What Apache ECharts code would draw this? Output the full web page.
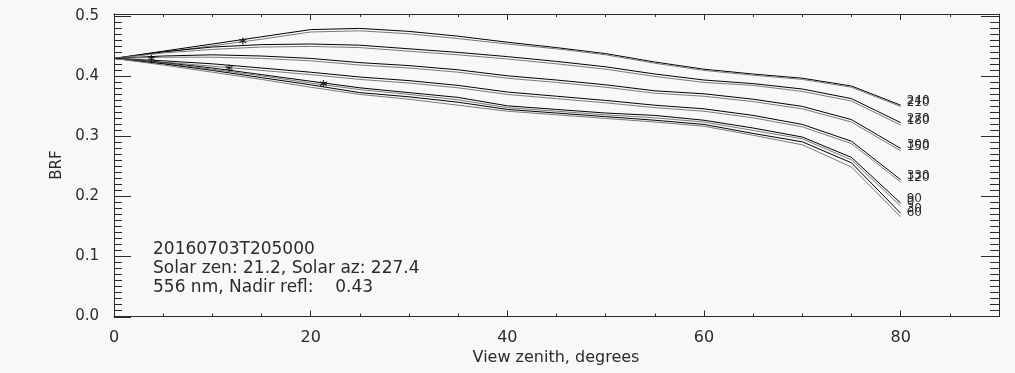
<!DOCTYPE html>
<html>
<head>
<meta charset="utf-8">
<script src="https://cdn.jsdelivr.net/npm/echarts@6/dist/echarts.min.js"></script>
<style>
  html, body { margin: 0; padding: 0; background: #f8f8f8; }
  #chart { width: 1015px; height: 373px; }
</style>
</head>
<body>
<div id="chart"></div>
<script>
// View zenith angles (degrees) at which the BRF was sampled
const zenith = [0, 5, 10, 15, 20, 25, 30, 35, 40, 45, 50, 55, 60, 65, 70, 75, 80];

// BRF per view azimuth (degrees)
const az240 = [0.430, 0.442, 0.454, 0.466, 0.478, 0.480, 0.475, 0.467, 0.457, 0.448, 0.438, 0.424, 0.412, 0.404, 0.397, 0.384, 0.352];
const az210 = [0.430, 0.440, 0.451, 0.462, 0.474, 0.476, 0.471, 0.463, 0.454, 0.446, 0.436, 0.422, 0.410, 0.402, 0.395, 0.382, 0.350];
const az270 = [0.430, 0.441, 0.449, 0.453, 0.454, 0.452, 0.446, 0.440, 0.433, 0.425, 0.416, 0.404, 0.394, 0.388, 0.379, 0.363, 0.323];
const az180 = [0.430, 0.439, 0.445, 0.449, 0.450, 0.448, 0.442, 0.436, 0.429, 0.421, 0.412, 0.400, 0.390, 0.385, 0.375, 0.359, 0.319];
const az300 = [0.430, 0.434, 0.436, 0.434, 0.430, 0.423, 0.418, 0.411, 0.401, 0.394, 0.386, 0.376, 0.371, 0.362, 0.350, 0.328, 0.280];
const az150 = [0.430, 0.432, 0.432, 0.430, 0.426, 0.419, 0.414, 0.407, 0.397, 0.390, 0.382, 0.372, 0.367, 0.358, 0.346, 0.324, 0.276];
const az330 = [0.430, 0.426, 0.421, 0.414, 0.407, 0.399, 0.393, 0.385, 0.374, 0.367, 0.360, 0.352, 0.346, 0.335, 0.320, 0.292, 0.228];
const az120 = [0.430, 0.424, 0.417, 0.410, 0.403, 0.395, 0.389, 0.381, 0.370, 0.363, 0.356, 0.348, 0.342, 0.331, 0.316, 0.288, 0.224];
const az90  = [0.430, 0.423, 0.414, 0.403, 0.392, 0.381, 0.373, 0.365, 0.351, 0.345, 0.339, 0.335, 0.327, 0.314, 0.299, 0.265, 0.189];
const az0   = [0.430, 0.422, 0.412, 0.401, 0.389, 0.378, 0.370, 0.361, 0.348, 0.342, 0.336, 0.331, 0.324, 0.310, 0.296, 0.261, 0.184];
const az30  = [0.430, 0.421, 0.410, 0.398, 0.386, 0.373, 0.366, 0.357, 0.345, 0.339, 0.333, 0.327, 0.320, 0.305, 0.291, 0.256, 0.172];
const az60  = [0.430, 0.419, 0.407, 0.395, 0.382, 0.370, 0.362, 0.352, 0.342, 0.336, 0.330, 0.324, 0.317, 0.302, 0.286, 0.249, 0.166];

const azLabels = ['240', '210', '270', '180', '300', '150', '330', '120', '90', '0', '30', '60'];
const azValues = [az240, az210, az270, az180, az300, az150, az330, az120, az90, az0, az30, az60];
const lineColors = ['#000000', '#7a7a7a'];

// Marked sample points (asterisks)
const starZenith = [3.8, 11.7, 13.1, 21.3];
const starBrf = [0.430, 0.414, 0.459, 0.388];

// Caption lines and axis titles
const captionLines = [
  '20160703T205000',
  'Solar zen: 21.2, Solar az: 227.4',
  '556 nm, Nadir refl:    0.43'
];
const xTitle = 'View zenith, degrees';
const yTitle = 'BRF';

const FONT = 'DejaVu Sans';
const INK = '#2b2b2b';
const AXIS_INK = '#2a2a2a';
const X_MAX = 90;
const Y_MAX = 0.504;

// Left-edge tick values: every 0.01, majors every 0.1
const leftTickValues = [];
for (let k = 0; k <= 50; k++) leftTickValues.push(k / 100);

const chart = echarts.init(document.getElementById('chart'), null, { renderer: 'canvas' });

const lineSeries = azValues.map((vals, i) => ({
  name: azLabels[i],
  type: 'line',
  xAxisIndex: 0,
  yAxisIndex: 0,
  data: zenith.map((z, k) => [z, vals[k]]),
  showSymbol: false,
  symbol: 'none',
  lineStyle: { color: lineColors[i % 2], width: 1 },
  itemStyle: { color: lineColors[i % 2] },
  z: 3,
  endLabel: {
    show: true,
    formatter: azLabels[i],
    fontFamily: FONT,
    fontSize: 12,
    color: INK,
    distance: 6,
    offset: [0, -4]
  }
}));

const starSeries = {
  type: 'scatter',
  xAxisIndex: 0,
  yAxisIndex: 0,
  data: starZenith.map((z, k) => [z, starBrf[k]]),
  symbol: 'path://M5,0L5,10M0.67,2.5L9.33,7.5M0.67,7.5L9.33,2.5',
  symbolSize: 7,
  itemStyle: { color: 'transparent', borderColor: '#000', borderWidth: 1.2 },
  z: 4
};

// Inward ticks on the left frame edge, placed through the y scale
const leftTickSeries = {
  type: 'custom',
  xAxisIndex: 0,
  yAxisIndex: 0,
  silent: true,
  z: 10,
  clip: false,
  encode: { x: 0, y: 1 },
  data: leftTickValues.map(v => [0, v]),
  renderItem: (params, api) => {
    const v = api.value(1);
    const p = api.coord([0, v]);
    const isMajor = Math.abs(v * 10 - Math.round(v * 10)) < 1e-6;
    const y = Math.round(p[1]) + 0.5;
    return {
      type: 'line',
      shape: { x1: p[0], y1: y, x2: p[0] + (isMajor ? 17 : 8), y2: y },
      style: { stroke: AXIS_INK, lineWidth: 1 }
    };
  }
};

// A frame side: value axis whose ticks point into the plot, no labels
function frameAxis(gridIndex, position, max, interval, tickLen, withLine) {
  return {
    type: 'value', gridIndex, position, min: 0, max, interval,
    axisLine: { show: withLine, onZero: false, lineStyle: { color: AXIS_INK, width: 1 } },
    axisTick: { show: tickLen > 0, inside: true, length: Math.max(tickLen, 1), lineStyle: { color: AXIS_INK, width: 1 } },
    splitLine: { show: false },
    axisLabel: { show: false }
  };
}

const plotRect = { left: 114, right: 16, top: 14, bottom: 56.5, containLabel: false };

// grid 0: data and tick labels
const xMain = frameAxis(0, 'bottom', X_MAX, 20, 0, false);
xMain.axisLabel = { show: true, showMaxLabel: false, margin: 13, fontFamily: FONT, fontSize: 16, color: INK };

const yMain = frameAxis(0, 'left', Y_MAX, 0.1, 0, false);
yMain.axisLabel = { show: true, showMaxLabel: false, margin: 15, fontFamily: FONT, fontSize: 15, color: INK,
  formatter: v => v.toFixed(1) };

const titleStyle = { fontFamily: FONT, fontSize: 16, fill: INK };

const option = {
  backgroundColor: '#f8f8f8',
  animation: false,
  grid: [plotRect, Object.assign({}, plotRect), Object.assign({}, plotRect)],
  xAxis: [
    xMain,
    // grid 1: box outline with major ticks
    frameAxis(1, 'bottom', X_MAX, 20, 6, true),
    frameAxis(1, 'top', X_MAX, 20, 6, true),
    // grid 2: minor ticks
    frameAxis(2, 'bottom', X_MAX, 5, 3, false),
    frameAxis(2, 'top', X_MAX, 5, 3, false)
  ],
  yAxis: [
    yMain,
    frameAxis(1, 'left', Y_MAX, 0.1, 17, true),
    frameAxis(1, 'right', Y_MAX, 0.1, 18, true),
    frameAxis(2, 'left', Y_MAX, 0.01, 8, false),
    frameAxis(2, 'right', Y_MAX, 0.01, 9, false)
  ],
  graphic: captionLines.map((t, i) => ({
    type: 'text',
    left: 153,
    top: 241 + i * 19,
    silent: true,
    style: { text: t, fontFamily: FONT, fontSize: 17, fill: INK }
  })).concat([
    {
      type: 'text', silent: true,
      x: 556, y: 358,
      style: Object.assign({ text: xTitle, align: 'center', verticalAlign: 'middle' }, titleStyle)
    },
    {
      type: 'text', silent: true,
      x: 57, y: 165, rotation: Math.PI / 2,
      style: Object.assign({ text: yTitle, align: 'center', verticalAlign: 'middle' }, titleStyle, { fontSize: 15 })
    }
  ]),
  series: lineSeries.concat([starSeries, leftTickSeries])
};

chart.setOption(option);
</script>
</body>
</html>
